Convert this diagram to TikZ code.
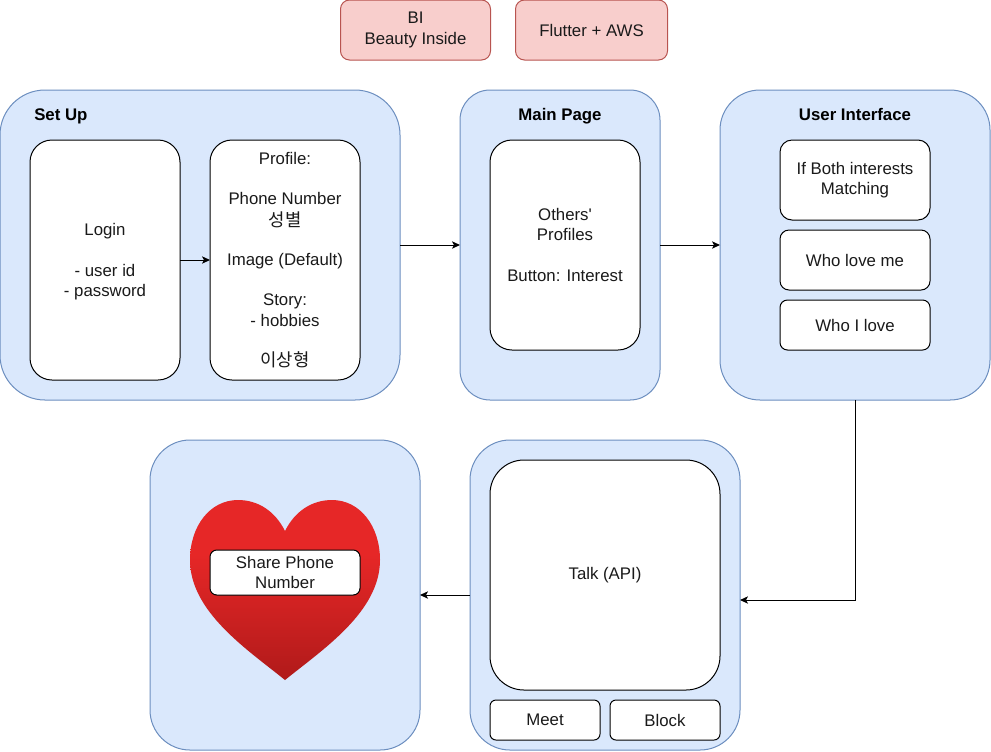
\documentclass[tikz,border=0pt]{standalone}
\usepackage{fontspec}
\setmainfont{Liberation Sans}
\newfontfamily\plainfont{Liberation Sans}
\newfontfamily\kofont[Scale=1.06]{Noto Sans CJK KR}
\usetikzlibrary{arrows.meta,calc}
\definecolor{panelfill}{HTML}{DAE8FC}
\definecolor{panelline}{HTML}{6C8EBF}
\definecolor{redfill}{HTML}{F8CECC}
\definecolor{redline}{HTML}{B85450}
\definecolor{inktext}{HTML}{1A1A1A}
\definecolor{hearttop}{HTML}{E62727}
\definecolor{heartlow}{HTML}{B01A1A}
\pgfdeclareverticalshading{heartfade}{100bp}{color(0bp)=(heartlow); color(25bp)=(heartlow); color(60bp)=(hearttop); color(100bp)=(hearttop)}
\tikzset{
  px/.style={x=0.75pt,y=-0.75pt},
  basebox/.style={draw,line width=0.75pt,align=center,inner sep=0pt,outer sep=0pt,text=inktext,
    font=\fontsize{12.6}{15.2}\selectfont},
  panel/.style={basebox,fill=panelfill,draw=panelline},
  inner/.style={basebox,fill=white,draw=black},
  redbox/.style={basebox,fill=redfill,draw=redline,rounded corners=6.75pt},
  boxsize/.style n args={3}{minimum width=#1*0.75pt,minimum height=#2*0.75pt,rounded corners=#3*0.75pt},
  title/.style={font=\fontsize{12.6}{15.2}\selectfont\bfseries,text=black,inner sep=0pt},
  flow/.style={-{Stealth[length=6pt,width=5.5pt,inset=1.5pt]},line width=0.75pt,black}
}
\begin{document}
\begin{tikzpicture}[px]
\useasboundingbox (0,0) rectangle (991,751);
% top labels
\node[redbox,minimum width=112.5pt,minimum height=45pt] (bi) at (415.5,30) {BI\\Beauty Inside};
\node[redbox,minimum width=114pt,minimum height=45pt] (stack) at (591.5,30) {Flutter + AWS};
% panels
\node[panel,boxsize={400}{310}{45}] (setup) at (200,245) {};
\node[panel,boxsize={200}{310}{30}] (main) at (560,245) {};
\node[panel,boxsize={270}{310}{40}] (ui) at (855,245) {};
\node[panel,boxsize={270}{310}{40}] (share) at (285,595) {};
\node[panel,boxsize={270}{310}{40}] (talkpanel) at (605,595) {};
% titles
\node[title,anchor=base west] (tsetup) at (34,120) {Set Up};
\node[title,anchor=base] (tmain) at (560,120) {Main Page};
\node[title,anchor=base] (tui) at (855,120) {User Interface};
% set up
\node[inner,boxsize={150}{240}{22}] (login) at (105,260) {\rule{0pt}{12pt}Login\\[15.2pt]- user id\\- password};
\node[inner,boxsize={150}{240}{22}] (profile) at (285,260) {Profile:\\[15.2pt]Phone Number\\\raisebox{-1.5pt}{\kofont 성별}\\[15.2pt]Image (Default)\\[15.2pt]Story:\\- hobbies\\[15.2pt]{\kofont 이상형}};
% main page
\node[inner,boxsize={150}{210}{22}] (others) at (565,245) {{\plainfont Others'}\\Profiles\\[15.2pt]Button: Interest};
% user interface
\node[inner,boxsize={150}{80}{12}] (both) at (855,180) {If Both interests\\Matching};
\node[inner,boxsize={150}{60}{9}] (whome) at (855,260) {Who love me};
\node[inner,boxsize={150}{50}{7.5}] (whoi) at (855,325) {Who I love};
% talk
\node[inner,boxsize={230}{230}{34}] (talk) at (605,575) {Talk (API)};
\node[inner,boxsize={110}{40}{6}] (meet) at (545,720) {Meet};
\node[inner,boxsize={110}{40}{6}] (block) at (665,720) {Block};
% heart
\path[shading=heartfade] (285,531)
  .. controls (275,511) and (258,500) .. (238,500)
  .. controls (210,500) and (190,526) .. (190,560)
  .. controls (190,612) and (248,650) .. (285,680)
  .. controls (322,650) and (380,612) .. (380,560)
  .. controls (380,526) and (360,500) .. (332,500)
  .. controls (312,500) and (295,511) .. (285,531) -- cycle;
\node[inner,boxsize={150}{45}{6.8}] (sharebox) at (285,572.5) {Share Phone\\Number};
% connectors
\coordinate (talkin) at ($(talkpanel.east)+(0,5)$);
\draw[flow] (login) -- (profile);
\draw[flow] (setup) -- (main);
\draw[flow] (main) -- (ui);
\draw[flow] (ui.south) |- (talkin);
\draw[flow] (talkpanel) -- (share);
\end{tikzpicture}
\end{document}
